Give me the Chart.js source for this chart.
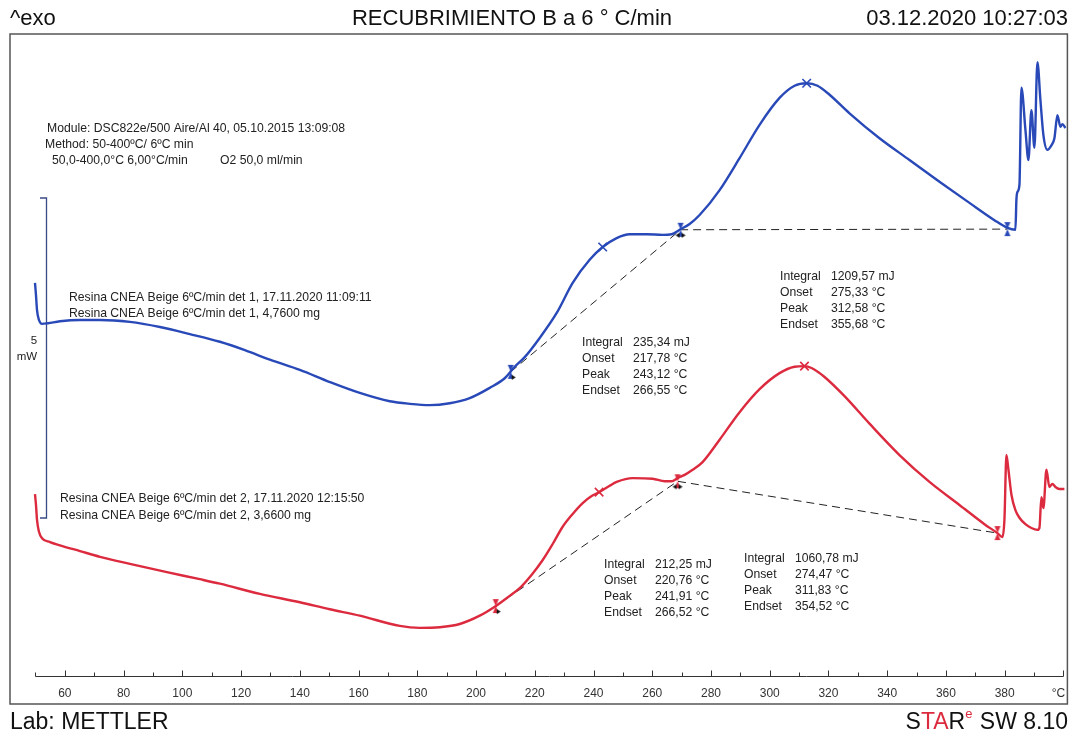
<!DOCTYPE html>
<html>
<head>
<meta charset="utf-8">
<script src="https://cdn.jsdelivr.net/npm/chart.js@4.4.1/dist/chart.umd.min.js"></script>
<style>
  html, body { margin: 0; padding: 0; background: #fff; overflow: hidden; }
  #wrap { position: relative; width: 1075px; height: 736px; }
</style>
</head>
<body>
<div id="wrap"><canvas id="dsc" width="1075" height="736"></canvas></div>
<script>
// ---- DSC curve, sample det 1 (temperature in °C, heat flow in mW) ----
const det1Temp = [49.83, 50.17, 50.51, 51.19, 52.22, 54.26, 58.33, 65.14, 71.95, 82.15,
  92.37, 102.57, 112.78, 121.29, 129.80, 140.01, 150.22, 160.42, 170.64, 177.45,
  184.24, 191.05, 197.86, 204.67, 209.77, 213.18, 216.58, 221.68, 227.47, 232.91,
  238.69, 243.12, 247.88, 252.31, 258.09, 263.54, 266.60, 269.32, 272.73, 276.13,
  282.94, 289.74, 296.55, 303.35, 308.46, 312.58, 316.28, 320.37, 327.17, 337.38,
  347.59, 357.80, 368.01, 376.51, 380.94, 383.66, 384.00, 384.34, 385.03, 385.70,
  387.07, 388.09, 389.10, 390.13, 391.15, 392.17, 393.19, 394.55, 395.91, 396.94,
  397.95, 398.98, 399.66, 400.68];
const det1Heat = [6.58, 6.39, 6.16, 6.00, 5.94, 5.95, 5.98, 6.00, 6.00, 5.97,
  5.89, 5.78, 5.66, 5.53, 5.38, 5.22, 5.03, 4.86, 4.73, 4.69,
  4.67, 4.70, 4.78, 4.94, 5.09, 5.27, 5.42, 5.72, 6.11, 6.58,
  6.94, 7.14, 7.28, 7.34, 7.34, 7.33, 7.34, 7.41, 7.50, 7.64,
  8.03, 8.53, 9.05, 9.47, 9.66, 9.70, 9.66, 9.52, 9.23, 8.84,
  8.50, 8.16, 7.83, 7.56, 7.44, 7.41, 7.88, 8.00, 8.11, 9.63,
  8.97, 8.50, 9.28, 8.69, 10.03, 9.44, 8.89, 8.66, 8.73, 8.84,
  9.20, 9.02, 9.06, 9.00];

// ---- DSC curve, sample det 2 ----
const det2Temp = [49.83, 50.17, 50.51, 51.19, 52.22, 54.93, 58.33, 65.14, 71.95, 82.15,
  94.75, 105.97, 112.78, 126.40, 140.01, 150.22, 160.42, 174.04, 180.84, 187.65,
  194.46, 201.27, 206.37, 211.47, 214.87, 218.96, 222.71, 226.10, 229.50, 232.91,
  236.31, 239.38, 241.91, 245.50, 247.88, 253.32, 260.13, 264.22, 266.60, 268.64,
  271.03, 273.75, 277.14, 282.94, 289.74, 296.55, 303.35, 308.46, 311.83, 314.24,
  318.67, 325.47, 333.98, 344.19, 354.40, 364.60, 373.12, 377.54, 379.24, 379.92,
  380.60, 381.28, 382.31, 383.66, 385.03, 387.07, 389.10, 391.15, 391.83, 392.51,
  393.19, 394.22, 395.23, 396.25, 397.28, 398.63, 400.34];
const det2Heat = [3.28, 3.11, 2.88, 2.69, 2.59, 2.53, 2.48, 2.39, 2.30, 2.19,
  2.06, 1.95, 1.88, 1.72, 1.59, 1.48, 1.38, 1.22, 1.19, 1.20,
  1.25, 1.38, 1.52, 1.69, 1.81, 2.02, 2.25, 2.50, 2.77, 2.97,
  3.14, 3.25, 3.31, 3.41, 3.47, 3.53, 3.52, 3.48, 3.48, 3.53,
  3.58, 3.66, 3.78, 4.13, 4.56, 4.92, 5.17, 5.27, 5.28, 5.25,
  5.11, 4.81, 4.38, 3.89, 3.47, 3.11, 2.81, 2.67, 2.61, 2.88,
  3.89, 3.66, 3.27, 3.03, 2.91, 2.81, 2.75, 2.72, 2.75, 3.23,
  3.06, 3.66, 3.39, 3.44, 3.39, 3.36, 3.36];

// ---- integration limits (baseline end points) ----
const det1LimitTemp = [211.81, 269.66, 380.94];
const det1LimitHeat = [5.19, 7.41, 7.42];
const det2LimitTemp = [206.71, 268.64, 377.54];
const det2LimitHeat = [1.53, 3.48, 2.67];

// ---- peak positions ----
const det1PeakTemp = [243.12, 312.58];
const det1PeakHeat = [7.14, 9.70];
const det2PeakTemp = [241.91, 311.83];
const det2PeakHeat = [3.31, 5.28];

// ---- evaluation results ----
const resultNames = ['Integral', 'Onset', 'Peak', 'Endset'];
const det1Peak1Values = ['235,34 mJ', '217,78 °C', '243,12 °C', '266,55 °C'];
const det1Peak2Values = ['1209,57 mJ', '275,33 °C', '312,58 °C', '355,68 °C'];
const det2Peak1Values = ['212,25 mJ', '220,76 °C', '241,91 °C', '266,52 °C'];
const det2Peak2Values = ['1060,78 mJ', '274,47 °C', '311,83 °C', '354,52 °C'];

// ---- temperature axis ----
const axisStart = 50, axisEnd = 400, minorStep = 10;
const tickLabels = [60, 80, 100, 120, 140, 160, 180, 200, 220, 240, 260, 280, 300, 320, 340, 360, 380];
const axisUnit = '°C';
const axisLevel = 0.4375;           // heat-flow level the temperature axis sits on
const scaleBarFrom = 2.906, scaleBarSpan = 5;   // 5 mW bar

const BLUE = '#2849b7';
const RED = '#dc2a3e';
const FONT = '"Liberation Sans", Arial, sans-serif';
const SMALL = '12.2px ' + FONT;
const HEAD = '22px ' + FONT;
const FOOT = '23px ' + FONT;

function pts(xs, ys) { return xs.map((x, i) => ({ x: x, y: ys[i] })); }

// limit marker: two small triangles meeting on the curve, with optional black arrows below
function limitMarker(color, arrows) {
  const c = document.createElement('canvas');
  c.width = 22; c.height = 26;
  const g = c.getContext('2d');
  const cx = 11, cy = 13;
  g.fillStyle = color;
  g.beginPath(); g.moveTo(cx - 3, cy - 7); g.lineTo(cx + 3, cy - 7); g.lineTo(cx, cy); g.closePath(); g.fill();
  g.beginPath(); g.moveTo(cx - 3, cy + 7); g.lineTo(cx + 3, cy + 7); g.lineTo(cx, cy); g.closePath(); g.fill();
  g.fillStyle = '#111';
  if (arrows === 'right' || arrows === 'both') {
    g.beginPath(); g.moveTo(cx + 1, cy + 3); g.lineTo(cx + 5, cy + 5.5); g.lineTo(cx + 1, cy + 8); g.closePath(); g.fill();
  }
  if (arrows === 'left' || arrows === 'both') {
    g.beginPath(); g.moveTo(cx - 1, cy + 3); g.lineTo(cx - 5, cy + 5.5); g.lineTo(cx - 1, cy + 8); g.closePath(); g.fill();
  }
  return c;
}

const det1LimitStyles = [limitMarker(BLUE, 'right'), limitMarker(BLUE, 'both'), limitMarker(BLUE, 'none')];
const det2LimitStyles = [limitMarker(RED, 'right'), limitMarker(RED, 'both'), limitMarker(RED, 'none')];

const decorations = {
  id: 'decorations',
  beforeDatasetsDraw(chart) {
    const ctx = chart.ctx, a = chart.chartArea;
    const xs = chart.scales.x, ys = chart.scales.y;
    ctx.save();
    // frame
    ctx.strokeStyle = '#555';
    ctx.lineWidth = 1.5;
    ctx.strokeRect(a.left, a.top, a.right - a.left, a.bottom - a.top);

    // temperature axis
    const yAxis = Math.round(ys.getPixelForValue(axisLevel)) + 0.5;
    ctx.strokeStyle = '#333';
    ctx.lineWidth = 1;
    ctx.beginPath();
    ctx.moveTo(xs.getPixelForValue(axisStart), yAxis);
    ctx.lineTo(xs.getPixelForValue(axisEnd), yAxis);
    for (let t = axisStart; t <= axisEnd; t += minorStep) {
      const px = Math.round(xs.getPixelForValue(t)) + 0.5;
      const len = (t % 20 === 0) ? 6 : 4;
      ctx.moveTo(px, yAxis);
      ctx.lineTo(px, yAxis - len);
    }
    ctx.stroke();
    ctx.fillStyle = '#333';
    ctx.font = '12px ' + FONT;
    ctx.textAlign = 'center';
    ctx.textBaseline = 'middle';
    tickLabels.forEach(t => ctx.fillText(String(t), xs.getPixelForValue(t), yAxis + 17));
    ctx.fillText(axisUnit, xs.getPixelForValue(axisEnd) - 5, yAxis + 17);

    // 5 mW scale bar
    const bx = 46.5;
    const b0 = ys.getPixelForValue(scaleBarFrom), b1 = ys.getPixelForValue(scaleBarFrom + scaleBarSpan);
    ctx.strokeStyle = '#3a4a86';
    ctx.lineWidth = 1.3;
    ctx.beginPath();
    ctx.moveTo(40, b1); ctx.lineTo(bx, b1); ctx.lineTo(bx, b0); ctx.lineTo(40, b0);
    ctx.stroke();
    ctx.fillStyle = '#222';
    ctx.font = '11.5px ' + FONT;
    ctx.textAlign = 'center';
    ctx.fillText(String(scaleBarSpan), 34, (b0 + b1) / 2 - 17);
    ctx.fillText('mW', 27, (b0 + b1) / 2 - 1);
    ctx.restore();
  },
  afterDraw(chart) {
    const ctx = chart.ctx;
    ctx.save();
    ctx.fillStyle = '#111';
    ctx.textBaseline = 'alphabetic';

    // header
    ctx.font = HEAD;
    ctx.textAlign = 'left';
    ctx.fillText('^exo', 10, 25);
    ctx.textAlign = 'center';
    ctx.fillText('RECUBRIMIENTO B a 6 ° C/min', 512, 25);
    ctx.textAlign = 'right';
    ctx.fillText('03.12.2020 10:27:03', 1068, 25);

    // footer
    ctx.font = FOOT;
    ctx.textAlign = 'left';
    ctx.fillText('Lab: METTLER', 10, 729);
    const tail = ' SW 8.10';
    let x = 1068 - ctx.measureText(tail).width;
    ctx.fillText(tail, x, 729);
    ctx.font = '13px ' + FONT;
    const eW = ctx.measureText('e').width + 1;
    x -= eW;
    ctx.fillStyle = RED;
    ctx.fillText('e', x, 718);
    ctx.font = FOOT;
    const parts = [['R', '#111'], ['TA', RED], ['S', '#111']];
    parts.forEach(([s, col]) => {
      x -= ctx.measureText(s).width;
      ctx.fillStyle = col;
      ctx.fillText(s, x, 729);
    });

    // method block
    ctx.fillStyle = '#222';
    ctx.font = SMALL;
    ctx.textAlign = 'left';
    ctx.fillText('Module: DSC822e/500 Aire/Al 40, 05.10.2015 13:09:08', 47, 132);
    ctx.fillText('Method: 50-400ºC/ 6ºC min', 45, 148);
    ctx.fillText('50,0-400,0°C 6,00°C/min', 52, 164);
    ctx.fillText('O2 50,0 ml/min', 220, 164);

    // sample identifiers
    ctx.fillText('Resina CNEA Beige 6ºC/min det 1, 17.11.2020 11:09:11', 69, 301);
    ctx.fillText('Resina CNEA Beige 6ºC/min det 1, 4,7600 mg', 69, 317);
    ctx.fillText('Resina CNEA Beige 6ºC/min det 2, 17.11.2020 12:15:50', 60, 502);
    ctx.fillText('Resina CNEA Beige 6ºC/min det 2, 3,6600 mg', 60, 519);

    // result tables
    function table(values, lx, top) {
      resultNames.forEach((n, i) => {
        ctx.fillText(n, lx, top + i * 16);
        ctx.fillText(values[i], lx + 51, top + i * 16);
      });
    }
    table(det1Peak1Values, 582, 346);
    table(det1Peak2Values, 780, 280);
    table(det2Peak1Values, 604, 568);
    table(det2Peak2Values, 744, 562);
    ctx.restore();
  }
};

new Chart(document.getElementById('dsc'), {
  type: 'scatter',
  data: {
    datasets: [
      { data: pts(det1Temp, det1Heat), showLine: true, borderColor: BLUE, borderWidth: 2.4,
        pointRadius: 0, cubicInterpolationMode: 'monotone', order: 2 },
      { data: pts(det2Temp, det2Heat), showLine: true, borderColor: RED, borderWidth: 2.4,
        pointRadius: 0, cubicInterpolationMode: 'monotone', order: 2 },
      { data: pts(det1LimitTemp, det1LimitHeat), showLine: true, borderColor: '#222', borderWidth: 1,
        borderDash: [8, 5], pointRadius: 0, order: 3 },
      { data: pts(det2LimitTemp, det2LimitHeat), showLine: true, borderColor: '#222', borderWidth: 1,
        borderDash: [8, 5], pointRadius: 0, order: 3 },
      { data: pts(det1PeakTemp, det1PeakHeat), showLine: false, pointStyle: 'crossRot', pointRadius: 6,
        borderColor: BLUE, borderWidth: 1.6, order: 1 },
      { data: pts(det2PeakTemp, det2PeakHeat), showLine: false, pointStyle: 'crossRot', pointRadius: 6,
        borderColor: RED, borderWidth: 1.6, order: 1 },
      { data: pts(det1LimitTemp, det1LimitHeat), showLine: false, pointStyle: det1LimitStyles, pointRadius: 6, order: 0 },
      { data: pts(det2LimitTemp, det2LimitHeat), showLine: false, pointStyle: det2LimitStyles, pointRadius: 6, order: 0 }
    ]
  },
  options: {
    responsive: false,
    animation: false,
    events: [],
    layout: { padding: { left: 10, right: 7, top: 34, bottom: 32 } },
    scales: {
      x: { type: 'linear', min: 41.32, max: 401.36, display: false },
      y: { type: 'linear', min: 0, max: 10.46875, display: false }
    },
    plugins: { legend: { display: false }, tooltip: { enabled: false } }
  },
  plugins: [decorations]
});
</script>
</body>
</html>
